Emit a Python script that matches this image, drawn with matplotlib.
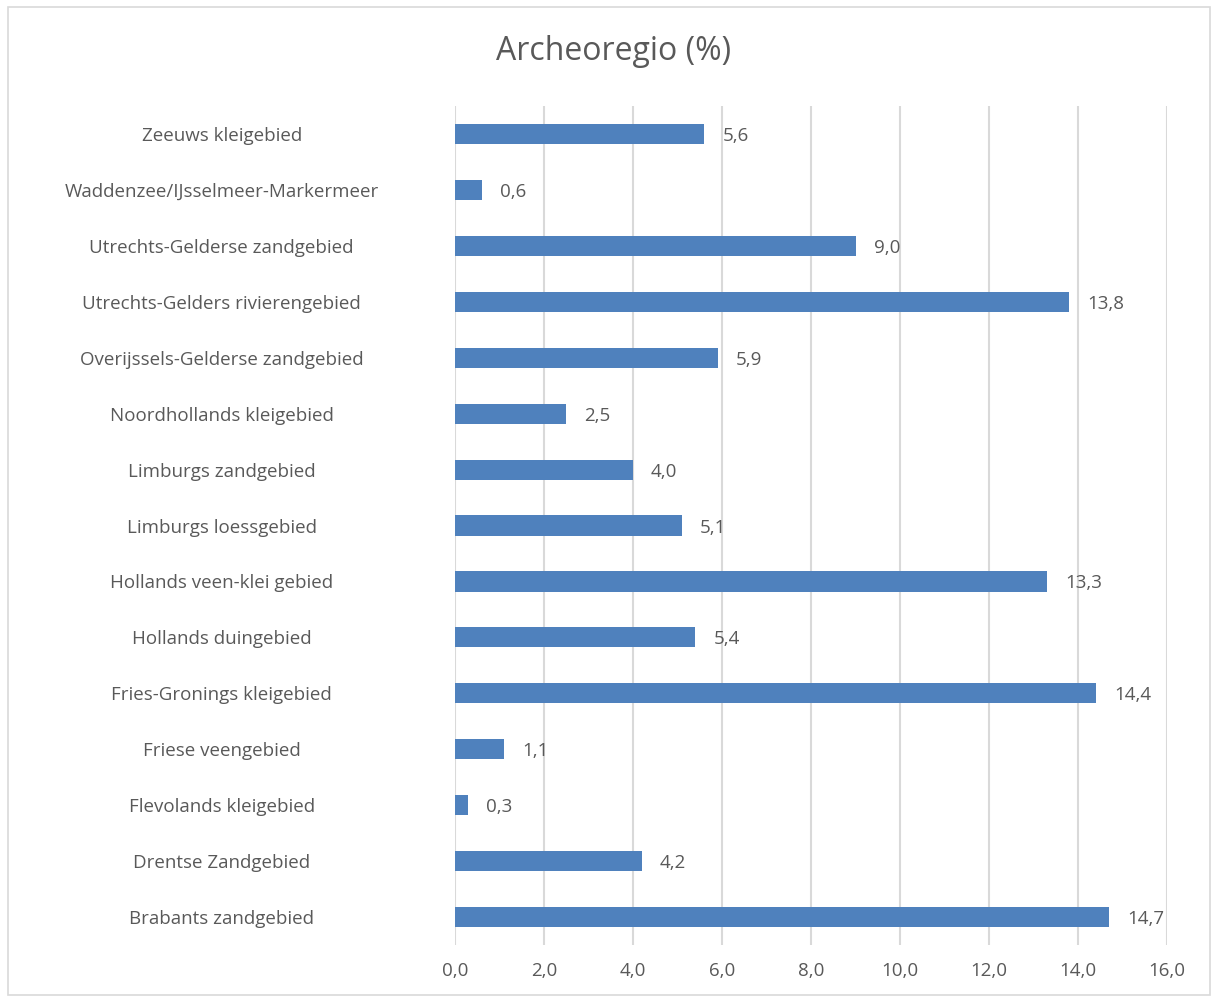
import matplotlib.pyplot as plt
from matplotlib.patches import Rectangle

regions = [
    "Brabants zandgebied",
    "Drentse Zandgebied",
    "Flevolands kleigebied",
    "Friese veengebied",
    "Fries-Gronings kleigebied",
    "Hollands duingebied",
    "Hollands veen-klei gebied",
    "Limburgs loessgebied",
    "Limburgs zandgebied",
    "Noordhollands kleigebied",
    "Overijssels-Gelderse zandgebied",
    "Utrechts-Gelders rivierengebied",
    "Utrechts-Gelderse zandgebied",
    "Waddenzee/IJsselmeer-Markermeer",
    "Zeeuws kleigebied",
]
percent = [14.7, 4.2, 0.3, 1.1, 14.4, 5.4, 13.3, 5.1, 4.0, 2.5, 5.9, 13.8, 9.0, 0.6, 5.6]
xticks = [0, 2, 4, 6, 8, 10, 12, 14, 16]

grey = '#595959'
plt.rcParams['font.family'] = ['Open Sans', 'DejaVu Sans']

fig = plt.figure(figsize=(12.14, 10.01), dpi=100)
ax = fig.add_axes([0.3748, 0.056, 0.5865, 0.838])

fig.patches.append(Rectangle((8 / 1214, 6 / 1001), 1202 / 1214, 988 / 1001,
                             transform=fig.transFigure, fill=False,
                             edgecolor='#d9d9d9', linewidth=1.2))

pos = list(range(len(regions)))
ax.barh(pos, percent, height=0.36, color='#4f81bd', zorder=3)
for y, v in zip(pos, percent):
    ax.annotate(f"{v:.1f}".replace('.', ','), (v, y), xytext=(13, 0),
                textcoords='offset points', ha='left', va='center_baseline',
                fontsize=13.5, color=grey)

ax.set_xlim(0, 16)
ax.set_ylim(-0.5, len(regions) - 0.5)
ax.set_xticks(xticks)
ax.set_xticklabels([f"{t:.1f}".replace('.', ',') for t in xticks])
ax.set_yticks(pos)
ax.set_yticklabels(regions, ha='center')
ax.tick_params(axis='both', length=0, labelsize=13.5, labelcolor=grey)
ax.tick_params(axis='y', pad=168)
ax.tick_params(axis='x', pad=12)
ax.grid(axis='x', color='#d9d9d9', linewidth=1.5, zorder=0)
for s in ax.spines.values():
    s.set_visible(False)

fig.text(0.505, 0.949, "Archeoregio (%)", ha='center', va='center',
         fontsize=23, color=grey)

fig.savefig('out.png', dpi=100)
